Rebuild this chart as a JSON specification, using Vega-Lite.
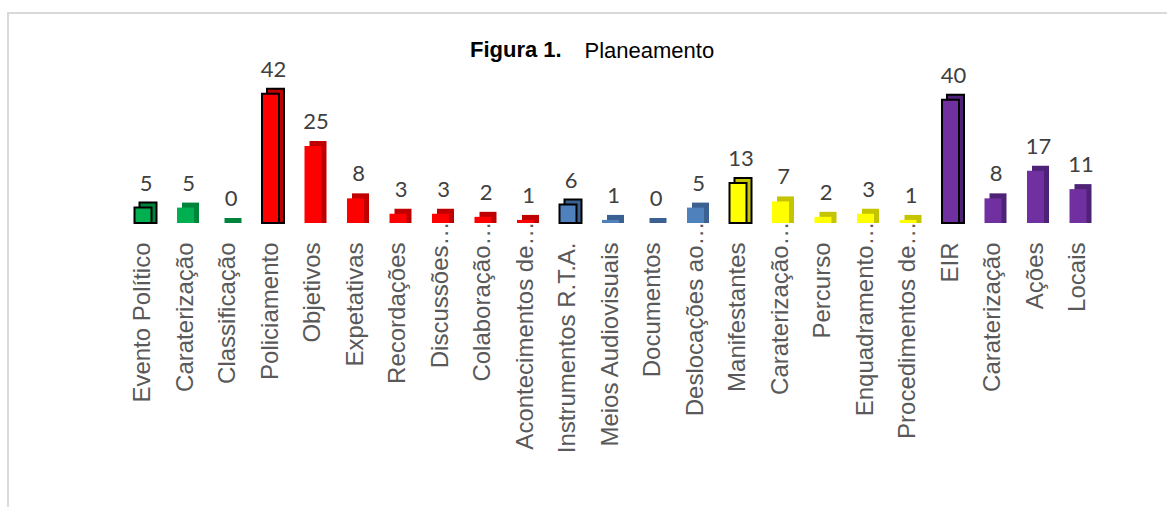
{
  "$schema": "https://vega.github.io/schema/vega-lite/v6.json",
  "autosize": {"type": "none"},
  "width": 1165,
  "height": 500,
  "padding": {"left": 8, "top": 13, "right": -6, "bottom": -6},
  "background": "white",
  "config": {"view": {"stroke": "#d9d9d9", "strokeWidth": 2}, "font": "Liberation Sans"},
  "title": {
    "text": "Figura 1.",
    "orient": "top",
    "anchor": "start",
    "frame": "group",
    "dx": 462,
    "offset": -49,
    "font": "Liberation Sans",
    "fontSize": 22,
    "fontWeight": "bold",
    "color": "#000000"
  },
  "data": {
    "values": [
      {"categoria": "Evento Político", "valor": 5, "grupo": "Evento Político", "cabeca": true},
      {"categoria": "Caraterização", "valor": 5, "grupo": "Evento Político", "cabeca": false},
      {"categoria": "Classificação", "valor": 0, "grupo": "Evento Político", "cabeca": false},
      {"categoria": "Policiamento", "valor": 42, "grupo": "Policiamento", "cabeca": true},
      {"categoria": "Objetivos", "valor": 25, "grupo": "Policiamento", "cabeca": false},
      {"categoria": "Expetativas", "valor": 8, "grupo": "Policiamento", "cabeca": false},
      {"categoria": "Recordações", "valor": 3, "grupo": "Policiamento", "cabeca": false},
      {"categoria": "Discussões…", "valor": 3, "grupo": "Policiamento", "cabeca": false},
      {"categoria": "Colaboração…", "valor": 2, "grupo": "Policiamento", "cabeca": false},
      {"categoria": "Acontecimentos de…", "valor": 1, "grupo": "Policiamento", "cabeca": false},
      {"categoria": "Instrumentos R.T.A.", "valor": 6, "grupo": "Instrumentos R.T.A.", "cabeca": true},
      {"categoria": "Meios Audiovisuais", "valor": 1, "grupo": "Instrumentos R.T.A.", "cabeca": false},
      {"categoria": "Documentos", "valor": 0, "grupo": "Instrumentos R.T.A.", "cabeca": false},
      {"categoria": "Deslocações ao…", "valor": 5, "grupo": "Instrumentos R.T.A.", "cabeca": false},
      {"categoria": "Manifestantes", "valor": 13, "grupo": "Manifestantes", "cabeca": true},
      {"categoria": "Caraterização…", "valor": 7, "grupo": "Manifestantes", "cabeca": false},
      {"categoria": "Percurso", "valor": 2, "grupo": "Manifestantes", "cabeca": false},
      {"categoria": "Enquadramento…", "valor": 3, "grupo": "Manifestantes", "cabeca": false},
      {"categoria": "Procedimentos de…", "valor": 1, "grupo": "Manifestantes", "cabeca": false},
      {"categoria": "EIR", "valor": 40, "grupo": "EIR", "cabeca": true},
      {"categoria": "Caraterização\u200b", "valor": 8, "grupo": "EIR", "cabeca": false},
      {"categoria": "Ações", "valor": 17, "grupo": "EIR", "cabeca": false},
      {"categoria": "Locais", "valor": 11, "grupo": "EIR", "cabeca": false}
    ]
  },
  "encoding": {
    "x": {
      "field": "categoria",
      "type": "nominal",
      "sort": null,
      "scale": {"range": [113.75, 1091.25], "paddingInner": 0.6, "paddingOuter": 0.3},
      "axis": {
        "orient": "bottom",
        "offset": -290,
        "title": null,
        "domain": false,
        "ticks": false,
        "labelAngle": -90,
        "labelAlign": "right",
        "labelBaseline": "middle",
        "labelFont": "Liberation Sans",
        "labelFontSize": 24,
        "labelColor": "#595959",
        "labelOverlap": false,
        "labelLimit": 0,
        "labelPadding": {"condition": {"test": "indexof(datum.value, '…') >= 0", "value": -2}, "value": 19}
      }
    },
    "y": {
      "field": "valor",
      "type": "quantitative",
      "stack": null,
      "scale": {"domain": [-94.16, 68.18], "nice": false, "zero": false},
      "axis": {
        "orient": "left",
        "domain": false,
        "ticks": false,
        "labels": false,
        "grid": false,
        "title": "Planeamento",
        "titleAngle": 0,
        "titleX": 576,
        "titleY": 44,
        "titleAlign": "left",
        "titleBaseline": "alphabetic",
        "titleFont": "Liberation Sans",
        "titleFontSize": 22,
        "titleFontWeight": "normal",
        "titleColor": "#000000"
      }
    }
  },
  "layer": [
    {
      "mark": {"type": "bar", "xOffset": 5, "yOffset": -5, "y2Offset": 0, "stroke": "#000000"},
      "encoding": {
        "color": {
          "field": "grupo",
          "type": "nominal",
          "scale": {
            "domain": ["Evento Político", "Policiamento", "Instrumentos R.T.A.", "Manifestantes", "EIR"],
            "range": ["#00843c", "#c00000", "#3b6190", "#c4c400", "#4e2276"]
          },
          "legend": null
        },
        "strokeWidth": {"condition": {"test": "datum.cabeca", "value": 2}, "value": 0}
      }
    },
    {
      "mark": {"type": "bar", "stroke": "#000000"},
      "encoding": {
        "fill": {
          "field": "grupo",
          "type": "nominal",
          "scale": {
            "domain": ["Evento Político", "Policiamento", "Instrumentos R.T.A.", "Manifestantes", "EIR"],
            "range": ["#00b050", "#ff0000", "#4f81bd", "#ffff00", "#7030a0"]
          },
          "legend": null
        },
        "strokeWidth": {"condition": {"test": "datum.cabeca", "value": 2}, "value": 0}
      }
    },
    {
      "mark": {"type": "text", "baseline": "alphabetic", "dy": -17, "dx": 3, "font": "Lato", "fontSize": 22, "color": "#404040"},
      "encoding": {"text": {"field": "valor", "type": "quantitative"}}
    }
  ],
  "resolve": {"scale": {"color": "independent", "fill": "independent"}}
}
